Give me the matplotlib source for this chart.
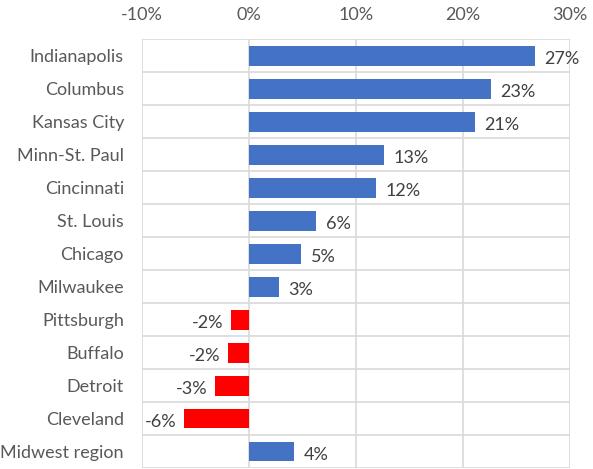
import matplotlib
matplotlib.use("Agg")
import matplotlib.pyplot as plt
import numpy as np

# data (percent change)
cities = ["Indianapolis", "Columbus", "Kansas City", "Minn-St. Paul", "Cincinnati",
          "St. Louis", "Chicago", "Milwaukee", "Pittsburgh", "Buffalo", "Detroit",
          "Cleveland", "Midwest region"]
values = [26.7, 22.6, 21.1, 12.6, 11.9, 6.3, 4.9, 2.8, -1.7, -2.0, -3.2, -6.1, 4.2]
labels = ["27%", "23%", "21%", "13%", "12%", "6%", "5%", "3%", "-2%", "-2%", "-3%", "-6%", "4%"]
xticks = [-10, 0, 10, 20, 30]
xticklabels = ["-10%", "0%", "10%", "20%", "30%"]

plt.rcParams['font.family'] = ['Lato', 'DejaVu Sans']

fig = plt.figure(figsize=(5.93, 4.69), dpi=100)
ax = fig.add_axes([0.2395, 0.002, 0.7215, 0.914])

y = np.arange(len(cities))
colors = ["#4472C4" if v >= 0 else "#FF0000" for v in values]
ax.barh(y, values, height=0.6, color=colors, zorder=3)

for yi, v, lab in zip(y, values, labels):
    if v >= 0:
        ax.text(v + 0.9, yi + 0.1, lab, ha="left", va="center", fontsize=13, color="#404040")
    else:
        ax.text(v - 0.7, yi + 0.1, lab, ha="right", va="center", fontsize=13, color="#404040")

ax.set_xlim(-10, 30)
ax.set_ylim(len(cities) - 0.5, -0.5)
ax.set_xticks(xticks)
ax.set_xticklabels(xticklabels)
ax.xaxis.tick_top()
ax.set_yticks(y)
ax.set_yticklabels(cities)
ax.set_yticks(np.arange(len(cities) + 1) - 0.5, minor=True)
ax.tick_params(axis="both", which="both", length=0, labelsize=13, colors="#595959")
ax.tick_params(axis="x", pad=12)
ax.tick_params(axis="y", pad=13)

ax.grid(axis="x", which="major", color="#D9D9D9", linewidth=1.2, zorder=0)
ax.grid(axis="y", which="minor", color="#D9D9D9", linewidth=1.2, zorder=0)
for s in ax.spines.values():
    s.set_visible(False)

fig.savefig("out.png", dpi=100)
